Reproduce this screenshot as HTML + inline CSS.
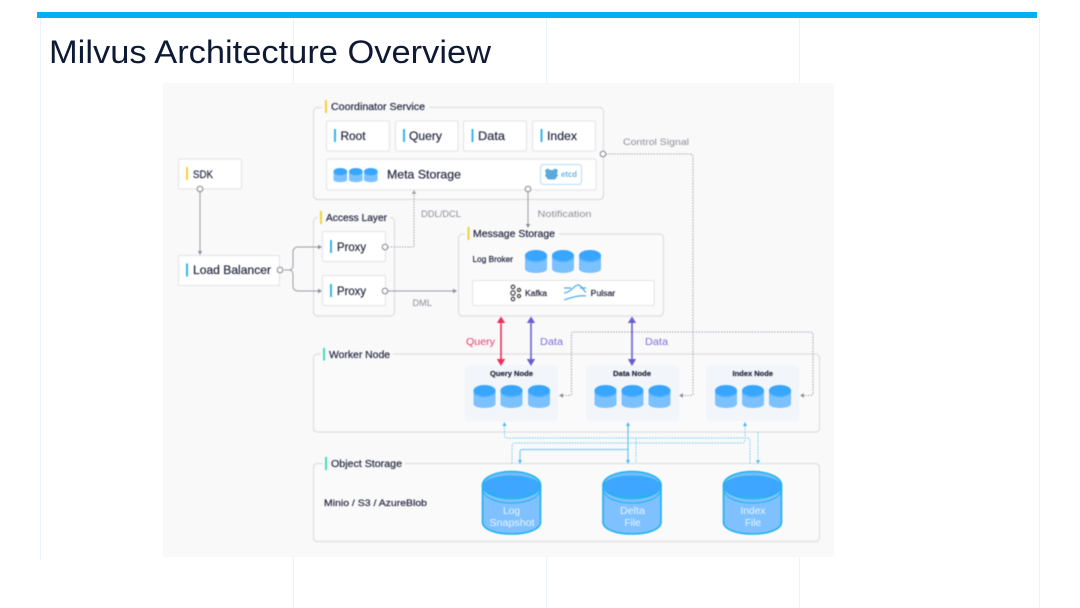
<!DOCTYPE html>
<html><head><meta charset="utf-8"><style>
html,body{margin:0;padding:0;background:#fff;width:1080px;height:608px;overflow:hidden}
svg{display:block}
text{font-family:"Liberation Sans",sans-serif;fill:#2a2d45;stroke:#2a2d45;stroke-width:.22;text-anchor:start}
.b{fill:#fff;stroke:#e6e6e8;stroke-width:1.2}
.c{fill:#fafafa;stroke:#dededf;stroke-width:1.2}
.g{fill:none;stroke:#9c9ca6;stroke-width:1}
.d{fill:none;stroke:#a5a5ae;stroke-width:1.1;stroke-dasharray:1.4 1.4}
.o{fill:#fff;stroke:#85858f;stroke-width:1}
.l{fill:none;stroke:#6fcdf2;stroke-width:.9;stroke-dasharray:1.6 1.2}
text.t{fill:#8d8e99;stroke:none}
text.w{fill:#e8f6ff;stroke:none}
text.r{fill:#ee3d68;stroke:none}
text.p{fill:#7b72d8;stroke:none}
</style></head><body>
<svg width="1080" height="608" viewBox="0 0 1080 608" xmlns="http://www.w3.org/2000/svg">
<defs>
<g id="cy"><path d="M0 5V19C0 21.2 5 23 11 23S22 21.2 22 19V5Z" fill="#7cc1ff"/><ellipse cx="11" cy="7" rx="11" ry="5.5" fill="#5eb5fb"/><ellipse cx="11" cy="5.5" rx="11" ry="5.5" fill="#38a6ff"/></g>
<g id="bg"><path d="M1 14V51C1 58 13 63 30 63S59 58 59 51V14Z" fill="#7fc1ff" stroke="#1fb0f0" stroke-width="1.6"/><path d="M1 17C1 26 13 32 30 32S59 26 59 17" fill="none" stroke="#1fb0f0" stroke-width="1"/><ellipse cx="30" cy="14" rx="29" ry="13.5" fill="#74bdfc" stroke="#1fb0f0" stroke-width="1.5"/><ellipse cx="30" cy="15.5" rx="29" ry="10.5" fill="#3fa6ff" stroke="#1fb0f0" stroke-width=".8"/></g>
</defs>
<rect width="1080" height="608" fill="#fff"/>
<g stroke="#e8f4fc" stroke-width="1" fill="none">
<path d="M40.5 18V560M293.5 18V608M546.5 18V608M799.5 18V608M1039.5 18V608"/>
</g>
<rect x="37" y="12" width="1000" height="6" fill="#00b0f0"/>
<text x="49" y="63" font-size="32" textLength="442" lengthAdjust="spacingAndGlyphs" style="fill:#0e1a33;stroke:none">Milvus Architecture Overview</text>
<rect x="163" y="83" width="671" height="474" fill="#f9f9fa"/>
<g style="filter:blur(.5px)">
<rect class="c" x="313.5" y="107.5" width="290" height="92" rx="4"/>
<rect x="322" y="101" width="107" height="12" fill="#f9f9fa"/>
<rect x="325" y="100" width="2" height="13" fill="#f5cf3a"/>
<text x="331" y="110" font-size="10" textLength="94" lengthAdjust="spacingAndGlyphs">Coordinator Service</text>
<rect class="b" x="326.5" y="121" width="63" height="30" rx="1.5"/>
<rect class="b" x="395.5" y="121" width="62.5" height="30" rx="1.5"/>
<rect class="b" x="463.5" y="121" width="63" height="30" rx="1.5"/>
<rect class="b" x="532.5" y="121" width="63" height="30" rx="1.5"/>
<rect x="334" y="129" width="2" height="13" fill="#35b5ec"/><text x="340.5" y="140" font-size="12" textLength="25" lengthAdjust="spacingAndGlyphs">Root</text>
<rect x="403" y="129" width="2" height="13" fill="#35b5ec"/><text x="409" y="140" font-size="12" textLength="33" lengthAdjust="spacingAndGlyphs">Query</text>
<rect x="471.5" y="129" width="2" height="13" fill="#35b5ec"/><text x="478" y="140" font-size="12" textLength="27" lengthAdjust="spacingAndGlyphs">Data</text>
<rect x="540.5" y="129" width="2" height="13" fill="#35b5ec"/><text x="547" y="140" font-size="12" textLength="30" lengthAdjust="spacingAndGlyphs">Index</text>
<rect class="b" x="326.5" y="159" width="269.5" height="31" rx="1.5"/>
<use href="#cy" transform="translate(333.5 168) scale(.62)"/><use href="#cy" transform="translate(349 168) scale(.62)"/><use href="#cy" transform="translate(364 168) scale(.62)"/>
<text x="387" y="178.5" font-size="12" textLength="74" lengthAdjust="spacingAndGlyphs">Meta Storage</text>
<rect x="540.5" y="164.5" width="41" height="20" rx="3" fill="#fff" stroke="#b7dcf5" stroke-width="1"/>
<path d="M545 170l3-1.500 2 1.500h3l2-1.500 3 1.500-1 3.500 1 2-3 4h-7l-3-4 1-2z" fill="#5aa9da"/>
<text x="561" y="177" font-size="8" font-weight="bold" textLength="16" lengthAdjust="spacingAndGlyphs" style="fill:#6db5e3;stroke:none">etcd</text>

<rect class="b" x="178.5" y="159" width="63" height="30" rx="1.5"/>
<rect x="186" y="167" width="2" height="13" fill="#f5cf3a"/>
<text x="193" y="178" font-size="11" textLength="20" lengthAdjust="spacingAndGlyphs">SDK</text>
<rect class="b" x="178.5" y="255.5" width="101" height="30" rx="1.5"/>
<rect x="186" y="263.5" width="2" height="13" fill="#35b5ec"/>
<text x="193" y="274" font-size="11.5" textLength="78" lengthAdjust="spacingAndGlyphs">Load Balancer</text>

<rect class="c" x="313.5" y="217.5" width="81" height="98.500" rx="4"/>
<rect x="318" y="211" width="72" height="12" fill="#f9f9fa"/>
<rect x="320" y="211" width="2" height="13" fill="#f5cf3a"/>
<text x="326" y="221" font-size="10" textLength="61" lengthAdjust="spacingAndGlyphs">Access Layer</text>
<rect class="b" x="322.5" y="231.5" width="63" height="30" rx="1.5"/>
<rect class="b" x="322.5" y="275.5" width="63" height="30" rx="1.5"/>
<rect x="330" y="240" width="2" height="13" fill="#35b5ec"/><text x="337" y="251" font-size="12" textLength="29" lengthAdjust="spacingAndGlyphs">Proxy</text>
<rect x="330" y="284" width="2" height="13" fill="#35b5ec"/><text x="337" y="295" font-size="12" textLength="29" lengthAdjust="spacingAndGlyphs">Proxy</text>

<rect class="c" x="458.5" y="234" width="205" height="82" rx="4"/>
<rect x="465" y="228" width="94" height="12" fill="#f9f9fa"/>
<rect x="467.5" y="227" width="2" height="13" fill="#f5cf3a"/>
<text x="473" y="237" font-size="10" textLength="82" lengthAdjust="spacingAndGlyphs">Message Storage</text>
<text x="472.5" y="262" font-size="8" textLength="40.500" lengthAdjust="spacingAndGlyphs">Log Broker</text>
<use href="#cy" x="525" y="250"/><use href="#cy" x="552" y="250"/><use href="#cy" x="579" y="250"/>
<rect x="472.5" y="280.500" width="181.500" height="25" rx="1.5" fill="#fff" stroke="#e4e4e8"/>
<g fill="none" stroke="#333" stroke-width="1.100"><circle cx="513" cy="287" r="1.800"/><circle cx="513" cy="293" r="2.200"/><circle cx="513" cy="299" r="1.800"/><circle cx="519" cy="290" r="1.600"/><circle cx="519" cy="296" r="1.600"/></g>
<text x="525" y="296" font-size="8" textLength="22" lengthAdjust="spacingAndGlyphs">Kafka</text>
<g fill="none" stroke="#4aa8e8" stroke-width="1.200"><path d="M564 293C572 292 574 285 578 285S584 292 586 292"/><path d="M564 300C572 297 580 295 586 296"/><path d="M564 288H571M580 288H586"/></g>
<text x="590.7" y="296" font-size="8" textLength="24.500" lengthAdjust="spacingAndGlyphs">Pulsar</text>

<rect class="c" x="313.5" y="354" width="506" height="78" rx="4"/>
<rect x="321" y="348" width="72" height="12" fill="#f9f9fa"/>
<rect x="323" y="348" width="2" height="12.500" fill="#3de0b5"/>
<text x="329" y="358" font-size="10" textLength="61" lengthAdjust="spacingAndGlyphs">Worker Node</text>
<rect x="465" y="365" width="93" height="56" rx="3" fill="#f2f6fb"/>
<rect x="586" y="365" width="93" height="56" rx="3" fill="#f2f6fb"/>
<rect x="706" y="365" width="93" height="56" rx="3" fill="#f2f6fb"/>
<text x="490" y="376" font-size="7.500" font-weight="bold" textLength="43" lengthAdjust="spacingAndGlyphs">Query Node</text>
<text x="613" y="376" font-size="7.500" font-weight="bold" textLength="38" lengthAdjust="spacingAndGlyphs">Data Node</text>
<text x="732.5" y="376" font-size="7.500" font-weight="bold" textLength="40.500" lengthAdjust="spacingAndGlyphs">Index Node</text>
<use href="#cy" x="473.5" y="385"/><use href="#cy" x="500.5" y="385"/><use href="#cy" x="528" y="385"/>
<use href="#cy" x="594.5" y="385"/><use href="#cy" x="621.5" y="385"/><use href="#cy" x="648.5" y="385"/>
<use href="#cy" x="715" y="385"/><use href="#cy" x="742" y="385"/><use href="#cy" x="769" y="385"/>

<rect class="c" x="313.5" y="463.500" width="506" height="78" rx="4"/>
<rect x="323" y="458" width="82" height="12" fill="#f9f9fa"/>
<rect x="325" y="457" width="2" height="13" fill="#3de0b5"/>
<text x="331" y="467" font-size="10" textLength="71" lengthAdjust="spacingAndGlyphs">Object Storage</text>
<text x="324" y="506" font-size="9.500" textLength="103" lengthAdjust="spacingAndGlyphs">Minio / S3 / AzureBlob</text>
<use href="#bg" x="481.5" y="471"/><use href="#bg" x="602" y="471"/><use href="#bg" x="722.5" y="471"/>
<text class="w" x="503" y="514" font-size="10" textLength="17" lengthAdjust="spacingAndGlyphs">Log</text>
<text class="w" x="489.5" y="526" font-size="10" textLength="45" lengthAdjust="spacingAndGlyphs">Snapshot</text>
<text class="w" x="620" y="514" font-size="10" textLength="25" lengthAdjust="spacingAndGlyphs">Delta</text>
<text class="w" x="624.5" y="526" font-size="10" textLength="16" lengthAdjust="spacingAndGlyphs">File</text>
<text class="w" x="740.5" y="514" font-size="10" textLength="25" lengthAdjust="spacingAndGlyphs">Index</text>
<text class="w" x="745" y="526" font-size="10" textLength="16" lengthAdjust="spacingAndGlyphs">File</text>

<path class="g" d="M200 189V252"/><path d="M197.8 251H202.2L200 255Z" fill="#8d8d97"/>
<path class="g" d="M284 270H289C292 270 293 268 293 265V252C293 249 295 247 298 247H319"/>
<path class="g" d="M289 270C292 270 293 272 293 275V286C293 289 295 291 298 291H319"/>
<path d="M318 244.800V249.200L322 247ZM318 288.800V293.200L322 291Z" fill="#8d8d97"/>
<circle class="o" cx="280" cy="270" r="2.800"/>
<circle class="o" cx="200" cy="189" r="2.800"/>
<path class="d" d="M388 247H412.5Q414 247 414 245.500V193"/><path d="M411.8 194H416.2L414 190Z" fill="#9c9ca6"/>
<circle class="o" cx="385" cy="247" r="2.800"/>
<path class="g" d="M388 291H454"/><path d="M453 288.800V293.200L457 291Z" fill="#8d8d97"/>
<circle class="o" cx="385" cy="291" r="2.800"/>
<path class="g" d="M528 192V224"/><path d="M525.8 224H530.2L528 228Z" fill="#8d8d97"/>
<circle class="o" cx="528" cy="189" r="2.800"/>
<path class="d" d="M606 154H690Q693 154 693 157V393Q693 395.500 690 395.500H682"/>
<path class="d" d="M693 332H574Q571.5 332 571.500 335V393Q571.500 395.500 569 395.500H562"/>
<path class="d" d="M693 332H810Q813 332 813 335V393Q813 395.500 810 395.500H803"/>
<path d="M683 393.300V397.700L679 395.500ZM563 393.300V397.700L559 395.500ZM804 393.300V397.700L800 395.500Z" fill="#8d8d97"/>
<circle class="o" cx="603" cy="154" r="2.800"/>

<text class="t" x="623" y="145" font-size="9.500" textLength="66" lengthAdjust="spacingAndGlyphs">Control Signal</text>
<text class="t" x="421" y="217" font-size="9.500" textLength="40" lengthAdjust="spacingAndGlyphs">DDL/DCL</text>
<text class="t" x="537.5" y="217" font-size="9.500" textLength="54" lengthAdjust="spacingAndGlyphs">Notification</text>
<text class="t" x="412.5" y="306" font-size="9.500" textLength="19.500" lengthAdjust="spacingAndGlyphs">DML</text>

<path d="M501 322V361" stroke="#ee2e5d" stroke-width="1.600" fill="none"/>
<path d="M496.800 323L501 316.500L505.200 323ZM496.800 359L501 366L505.200 359Z" fill="#ee2e5d"/>
<path d="M531 322V361" stroke="#6a5fd0" stroke-width="1.600" fill="none"/>
<path d="M526.800 323L531 316.500L535.200 323ZM526.800 359L531 366L535.200 359Z" fill="#6a5fd0"/>
<path d="M632 322V361" stroke="#6a5fd0" stroke-width="1.600" fill="none"/>
<path d="M627.800 323L632 316.500L636.200 323ZM627.800 359L632 366L636.200 359Z" fill="#6a5fd0"/>
<text class="r" x="466" y="345" font-size="10" textLength="29" lengthAdjust="spacingAndGlyphs">Query</text>
<text class="p" x="540" y="345" font-size="10" textLength="23" lengthAdjust="spacingAndGlyphs">Data</text>
<text class="p" x="645" y="345" font-size="10" textLength="23" lengthAdjust="spacingAndGlyphs">Data</text>

<path class="l" d="M504.5 425V436Q504.500 438 507 438H747Q750 438 750 441V463"/>
<path class="l" d="M636 438V463"/>
<path class="l" d="M512 463V446Q512 443 515 443H742Q745 443 745 440V425"/>
<path d="M520 461V452Q520 449.500 523 449.500H628" fill="none" stroke="#7fd0f2" stroke-width="1.200"/>
<path d="M628 425V460" fill="none" stroke="#45bcec" stroke-width="1"/>
<path class="l" d="M758 432V460"/>
<path d="M502.5 426H506.500L504.500 422ZM626 426H630L628 422ZM743 426H747L745 422ZM518 460H522L520 464ZM626 460H630L628 464ZM756 460H760L758 464Z" fill="#45bcec"/>
</g>
</svg>
</body></html>
